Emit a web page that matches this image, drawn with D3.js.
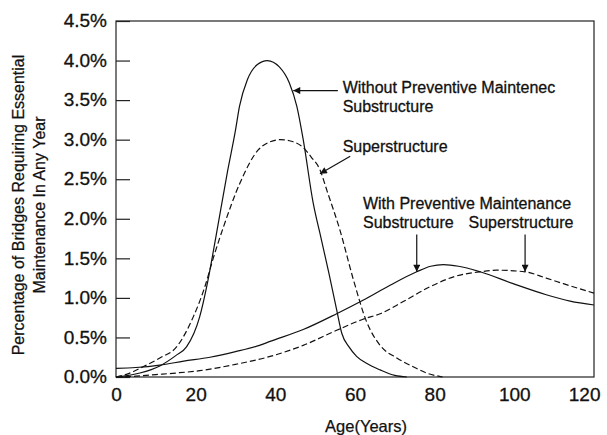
<!DOCTYPE html>
<html>
<head>
<meta charset="utf-8">
<script src="https://cdn.jsdelivr.net/npm/d3@7"></script>
<style>
  body { margin: 0; background: #fff; }
  text { font-family: Arial, "Liberation Sans", Helvetica, sans-serif; fill: #111; }
</style>
</head>
<body>
<div id="chart"></div>
<script>
// ages (years) and percentages
var subWithoutAge = [0, 2, 6, 11, 15, 17.7, 21, 23, 25, 28, 30, 31, 33, 35.5, 38, 41, 43.5, 45.4, 47, 49.5, 51.5, 53.5, 55.4, 56.7, 58.5, 60.4, 63, 66.3, 70, 73];
var subWithoutPct = [0, 0.01, 0.05, 0.14, 0.27, 0.38, 0.76, 1.2, 1.75, 2.6, 3.12, 3.42, 3.76, 3.95, 4.0, 3.92, 3.72, 3.42, 3.0, 2.2, 1.75, 1.3, 0.85, 0.55, 0.38, 0.26, 0.17, 0.09, 0.02, 0];

var supWithoutAge = [0, 3, 6.8, 11, 15.2, 19.4, 22.3, 24.4, 27, 31.1, 35.7, 38.5, 41.2, 44, 47, 49, 51.2, 53, 56.2, 59.6, 62.9, 66.3, 70.5, 74.6, 78, 82];
var supWithoutPct = [0, 0.04, 0.13, 0.24, 0.38, 0.76, 1.14, 1.5, 1.9, 2.45, 2.87, 2.97, 3.0, 2.98, 2.9, 2.78, 2.62, 2.35, 1.86, 1.23, 0.7, 0.4, 0.24, 0.13, 0.05, 0];

var subWithAge = [0, 5, 11, 17, 23.6, 30, 36, 38.7, 47, 55.4, 62, 68.8, 75.5, 79, 82.2, 86, 91.4, 99.7, 108, 114, 120];
var subWithPct = [0.11, 0.12, 0.15, 0.2, 0.25, 0.32, 0.4, 0.45, 0.6, 0.8, 0.97, 1.16, 1.33, 1.4, 1.42, 1.4, 1.33, 1.18, 1.04, 0.96, 0.91];

var supWithAge = [0, 5, 10, 15, 21, 30, 38.7, 47, 55.4, 62, 66.3, 72, 78.8, 85, 91.4, 95.6, 102.7, 108, 112.3, 120];
var supWithPct = [0, 0.01, 0.03, 0.05, 0.08, 0.16, 0.26, 0.4, 0.59, 0.73, 0.8, 0.95, 1.14, 1.27, 1.33, 1.35, 1.33, 1.25, 1.18, 1.06];

var xTicks = [0, 20, 40, 60, 80, 100, 120];
var yTicks = [0, 0.5, 1, 1.5, 2, 2.5, 3, 3.5, 4, 4.5];

var W = 607, H = 435;
var svg = d3.select("#chart").append("svg")
  .attr("width", W).attr("height", H);

var x = d3.scaleLinear().domain([0, 120]).range([116, 594]);
var y = d3.scaleLinear().domain([0, 4.5]).range([377, 21]);

// arrow head
svg.append("defs").append("marker")
  .attr("id", "arrow")
  .attr("viewBox", "0 0 10 10")
  .attr("refX", 10).attr("refY", 5)
  .attr("markerWidth", 12).attr("markerHeight", 7)
  .attr("markerUnits", "userSpaceOnUse")
  .attr("orient", "auto")
  .append("path").attr("d", "M0,0L10,5L0,10Z").attr("fill", "#111");

// frame
svg.append("rect")
  .attr("x", x(0)).attr("y", y(4.5))
  .attr("width", x(120) - x(0)).attr("height", y(0) - y(4.5))
  .attr("fill", "none").attr("stroke", "#222").attr("stroke-width", 1.2);

// y axis, ticks pointing inward
var yAxis = svg.append("g")
  .attr("transform", "translate(" + x(0) + ",0)")
  .call(d3.axisLeft(y).tickValues(yTicks).tickSizeInner(-14).tickSizeOuter(0).tickPadding(9)
    .tickFormat(function(d) { return d.toFixed(1) + "%"; }));
yAxis.select(".domain").remove();
yAxis.selectAll("line").attr("stroke", "#222").attr("stroke-width", 1.2);
yAxis.selectAll("text").style("font-size", "19px").attr("dy", "0.3em")
  .style("stroke", "#111").style("stroke-width", 0.3);

// x axis, labels only
var xAxis = svg.append("g")
  .attr("transform", "translate(0," + y(0) + ")")
  .call(d3.axisBottom(x).tickValues(xTicks).tickSize(0).tickPadding(11));
xAxis.select(".domain").remove();
xAxis.selectAll("text").style("font-size", "19px")
  .style("stroke", "#111").style("stroke-width", 0.3);
// last label sits inside the page edge, as in the original
xAxis.selectAll("text").filter(function(d) { return d === 120; })
  .attr("text-anchor", "end").attr("dx", 6);

// axis titles
svg.append("text")
  .attr("x", 366).attr("y", 432)
  .attr("text-anchor", "middle")
  .style("font-size", "16.5px").style("stroke", "#111").style("stroke-width", 0.25)
  .text("Age(Years)");

var yTitle = svg.append("text")
  .attr("transform", "translate(0,205) rotate(-90)")
  .attr("text-anchor", "middle")
  .style("font-size", "16px").style("stroke", "#111").style("stroke-width", 0.25);
yTitle.append("tspan").attr("x", 0).attr("y", 24).text("Percentage of Bridges Requiring Essential");
yTitle.append("tspan").attr("x", 0).attr("y", 45).text("Maintenance In Any Year");

// curves
var series = [
  { ages: subWithoutAge, pcts: subWithoutPct, dash: null },
  { ages: supWithoutAge, pcts: supWithoutPct, dash: "6,3" },
  { ages: subWithAge, pcts: subWithPct, dash: null },
  { ages: supWithAge, pcts: supWithPct, dash: "6,3" }
];

var line = d3.line()
  .x(function(d) { return x(d[0]); })
  .y(function(d) { return y(d[1]); })
  .curve(d3.curveMonotoneX);

svg.selectAll(".curve")
  .data(series)
  .enter().append("path")
  .attr("class", "curve")
  .attr("d", function(s) { return line(d3.zip(s.ages, s.pcts)); })
  .attr("fill", "none")
  .attr("stroke", "#111")
  .attr("stroke-width", 1.2)
  .attr("stroke-dasharray", function(s) { return s.dash; });

// annotation arrows: [tail age, tail pct, tip age, tip pct]
var arrows = [
  [55.7, 3.62, 44.5, 3.62],
  [58.8, 2.79, 51.2, 2.57],
  [75.5, 1.80, 75.5, 1.33],
  [102.7, 1.80, 102.7, 1.33]
];
svg.selectAll(".arrow")
  .data(arrows)
  .enter().append("line")
  .attr("class", "arrow")
  .attr("x1", function(d) { return x(d[0]); })
  .attr("y1", function(d) { return y(d[1]); })
  .attr("x2", function(d) { return x(d[2]); })
  .attr("y2", function(d) { return y(d[3]); })
  .attr("stroke", "#111").attr("stroke-width", 1.2)
  .attr("marker-end", "url(#arrow)");

// annotation labels: [age, pct of baseline, text]
var labels = [
  [56.9, 3.59, "Without Preventive Maintenec"],
  [56.9, 3.35, "Substructure"],
  [56.9, 2.84, "Superstructure"],
  [62.0, 2.12, "With Preventive Maintenance"],
  [62.0, 1.88, "Substructure"],
  [88.5, 1.88, "Superstructure"]
];
svg.selectAll(".note")
  .data(labels)
  .enter().append("text")
  .attr("class", "note")
  .attr("x", function(d) { return x(d[0]); })
  .attr("y", function(d) { return y(d[1]); })
  .style("font-size", "16px").style("stroke", "#111").style("stroke-width", 0.3)
  .text(function(d) { return d[2]; });
</script>
</body>
</html>
